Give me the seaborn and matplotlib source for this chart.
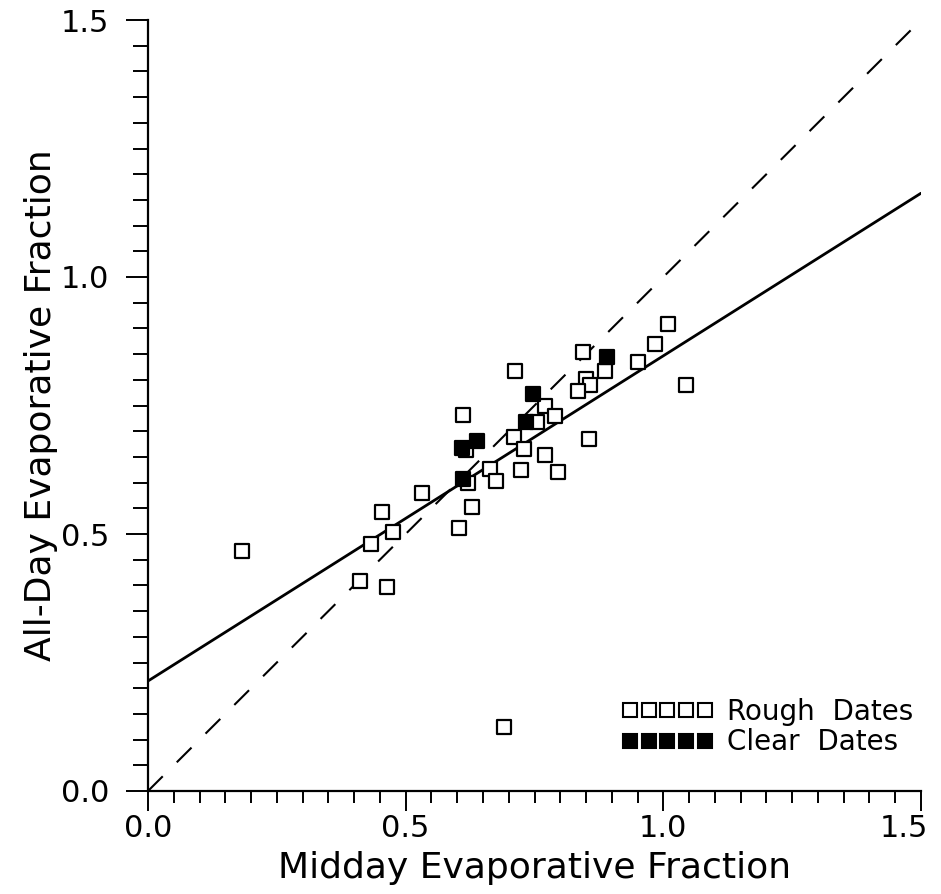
import matplotlib
matplotlib.use("Agg")
import matplotlib.pyplot as plt
from matplotlib.lines import Line2D
from matplotlib.ticker import MultipleLocator
import matplotlib.transforms as mtransforms
import seaborn as sns
import pandas as pd

# ---- data ----
rough_x = [0.182, 0.433, 0.476, 0.411, 0.463, 0.455, 0.531, 0.611, 0.712, 0.844,
           0.887, 0.951, 0.983, 1.009, 1.044, 0.849, 0.857, 0.835, 0.770, 0.789,
           0.755, 0.711, 0.730, 0.771, 0.855, 0.618, 0.664, 0.675, 0.724, 0.796,
           0.621, 0.628, 0.604, 0.690]
rough_y = [0.466, 0.481, 0.504, 0.409, 0.396, 0.542, 0.580, 0.732, 0.817, 0.855,
           0.817, 0.835, 0.870, 0.909, 0.789, 0.801, 0.789, 0.779, 0.749, 0.730,
           0.717, 0.689, 0.665, 0.654, 0.684, 0.663, 0.626, 0.604, 0.625, 0.621,
           0.600, 0.553, 0.512, 0.125]
clear_x = [0.891, 0.747, 0.733, 0.639, 0.609, 0.611]
clear_y = [0.844, 0.772, 0.718, 0.680, 0.667, 0.607]

fit_x = [0.0, 1.5]
fit_y = [0.214, 1.163]
one_x = [0.0, 1.5]
one_y = [0.0, 1.5]

x_ticks = [0.0, 0.5, 1.0, 1.5]
x_ticklabels = ["0.0", "0.5", "1.0", "1.5"]
y_ticks = [0.0, 0.5, 1.0, 1.5]
y_ticklabels = ["0.0", "0.5", "1.0", "1.5"]
legend_labels = ["Rough  Dates", "Clear  Dates"]

rough_df = pd.DataFrame({"x": rough_x, "y": rough_y})
clear_df = pd.DataFrame({"x": clear_x, "y": clear_y})

sns.set_style("ticks")
plt.rcParams["font.family"] = ["DejaVu Sans"]

fig = plt.figure(figsize=(9.41, 8.94), dpi=100)
ax = fig.add_axes([148 / 941, 1 - 791 / 894, 773 / 941, 771 / 894])

sns.lineplot(x=one_x, y=one_y, ax=ax, color="black", linewidth=1.5,
             linestyle=(0, (10, 9.5)), zorder=2)
sns.lineplot(x=fit_x, y=fit_y, ax=ax, color="black", linewidth=2.0, zorder=2)

sns.scatterplot(data=rough_df, x="x", y="y", ax=ax, marker="s", s=100,
                facecolor="white", edgecolor="black", linewidth=1.6, zorder=3)
sns.scatterplot(data=clear_df, x="x", y="y", ax=ax, marker="s", s=100,
                color="black", edgecolor="black", linewidth=1.6, zorder=4)

ax.set_xlim(0, 1.5)
ax.set_ylim(0, 1.5)
ax.set_xticks(x_ticks)
ax.set_xticklabels(x_ticklabels)
ax.set_yticks(y_ticks)
ax.set_yticklabels(y_ticklabels)
ax.xaxis.set_minor_locator(MultipleLocator(0.05))
ax.yaxis.set_minor_locator(MultipleLocator(0.05))

for side in ["top", "right"]:
    ax.spines[side].set_visible(False)
for side in ["left", "bottom"]:
    ax.spines[side].set_linewidth(1.6)
    ax.spines[side].set_color("black")

ax.tick_params(axis="x", which="major", direction="out", length=14.4, width=1.4,
               pad=2, labelsize=22, colors="black")
ax.tick_params(axis="x", which="minor", direction="out", length=8.6, width=1.4,
               colors="black")
ax.tick_params(axis="y", which="major", direction="out", length=16, width=1.4,
               pad=12, labelsize=22, colors="black")
ax.tick_params(axis="y", which="minor", direction="out", length=11, width=1.4,
               colors="black")

# nudge the last x tick label left so it stays inside the figure
last = ax.get_xticklabels()[-1]
last.set_transform(last.get_transform() +
                   mtransforms.ScaledTranslation(-12 / 72, 0, fig.dpi_scale_trans))

ax.set_xlabel("Midday Evaporative Fraction", fontsize=26, labelpad=6, color="black")
ax.set_ylabel("All-Day Evaporative Fraction", fontsize=26, labelpad=2, color="black")

handles = [
    Line2D([], [], linestyle="none", marker="s", markersize=10,
           markerfacecolor="white", markeredgecolor="black", markeredgewidth=1.5),
    Line2D([], [], linestyle="none", marker="s", markersize=10,
           markerfacecolor="black", markeredgecolor="black", markeredgewidth=1.5),
]
ax.legend(handles, legend_labels, loc="lower right",
          bbox_to_anchor=(0.99, 0.045), frameon=False, numpoints=5,
          handlelength=3.3, handletextpad=0.5, labelspacing=0.1,
          fontsize=20, labelcolor="black", borderpad=0, borderaxespad=0)

fig.savefig("out.png", dpi=100)
